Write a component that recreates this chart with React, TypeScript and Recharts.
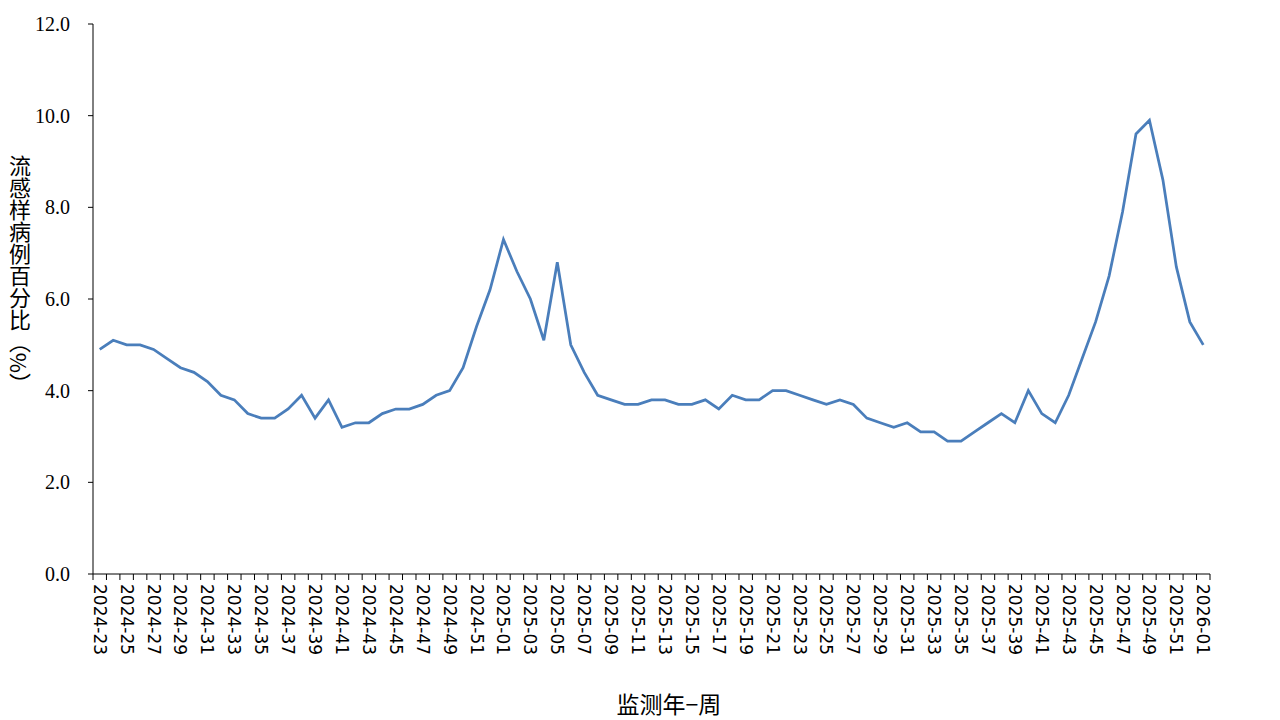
import React from "react";
import { LineChart, Line, XAxis, YAxis } from "recharts";

// ---- data ----
const weeks: string[] = [
  "2024-23", "2024-24", "2024-25", "2024-26", "2024-27", "2024-28", "2024-29", "2024-30",
  "2024-31", "2024-32", "2024-33", "2024-34", "2024-35", "2024-36", "2024-37", "2024-38",
  "2024-39", "2024-40", "2024-41", "2024-42", "2024-43", "2024-44", "2024-45", "2024-46",
  "2024-47", "2024-48", "2024-49", "2024-50", "2024-51", "2024-52",
  "2025-01", "2025-02", "2025-03", "2025-04", "2025-05", "2025-06", "2025-07", "2025-08",
  "2025-09", "2025-10", "2025-11", "2025-12", "2025-13", "2025-14", "2025-15", "2025-16",
  "2025-17", "2025-18", "2025-19", "2025-20", "2025-21", "2025-22", "2025-23", "2025-24",
  "2025-25", "2025-26", "2025-27", "2025-28", "2025-29", "2025-30", "2025-31", "2025-32",
  "2025-33", "2025-34", "2025-35", "2025-36", "2025-37", "2025-38", "2025-39", "2025-40",
  "2025-41", "2025-42", "2025-43", "2025-44", "2025-45", "2025-46", "2025-47", "2025-48",
  "2025-49", "2025-50", "2025-51", "2025-52",
  "2026-01",
];

// 流感样病例百分比 (%)
const iliPercent: number[] = [
  4.9, 5.1, 5.0, 5.0, 4.9, 4.7, 4.5, 4.4,
  4.2, 3.9, 3.8, 3.5, 3.4, 3.4, 3.6, 3.9,
  3.4, 3.8, 3.2, 3.3, 3.3, 3.5, 3.6, 3.6,
  3.7, 3.9, 4.0, 4.5, 5.4, 6.2,
  7.3, 6.6, 6.0, 5.1, 6.8, 5.0, 4.4, 3.9,
  3.8, 3.7, 3.7, 3.8, 3.8, 3.7, 3.7, 3.8,
  3.6, 3.9, 3.8, 3.8, 4.0, 4.0, 3.9, 3.8,
  3.7, 3.8, 3.7, 3.4, 3.3, 3.2, 3.3, 3.1,
  3.1, 2.9, 2.9, 3.1, 3.3, 3.5, 3.3, 4.0,
  3.5, 3.3, 3.9, 4.7, 5.5, 6.5, 7.9, 9.6,
  9.9, 8.6, 6.7, 5.5,
  5.0,
];

const yTicks: number[] = [0, 2, 4, 6, 8, 10, 12];

const data = weeks.map((w, i) => ({ week: w, value: iliPercent[i] }));

// ---- layout ----
const W = 1280;
const H = 720;
const PLOT_LEFT = 93;
const PLOT_RIGHT = 1210;
const PLOT_TOP = 24;
const PLOT_BOTTOM = 574;
const Y_AXIS_W = 60;
const BAND = (PLOT_RIGHT - PLOT_LEFT) / weeks.length;

const XTick = (props: any) => {
  const { x, index, payload } = props;
  const half = BAND / 2;
  const isLast = index === weeks.length - 1;
  return (
    <g>
      <line x1={x - half} x2={x - half} y1={PLOT_BOTTOM} y2={PLOT_BOTTOM + 6} stroke="#000" />
      {isLast && (
        <line x1={x + half} x2={x + half} y1={PLOT_BOTTOM} y2={PLOT_BOTTOM + 6} stroke="#000" />
      )}
      {index % 2 === 0 && (
        <text
          transform={`translate(${x},${PLOT_BOTTOM + 10}) rotate(90)`}
          textAnchor="start"
          dominantBaseline="central"
          fontFamily="DejaVu Sans"
          fontSize={17}
          fill="#000"
        >
          {payload.value}
        </text>
      )}
    </g>
  );
};

export default function App() {
  return (
    <div style={{ position: "absolute", left: 0, top: 0, width: W, height: H, background: "#fff" }}>
      <LineChart
        width={W}
        height={H}
        data={data}
        margin={{ top: PLOT_TOP, right: W - PLOT_RIGHT, left: PLOT_LEFT - Y_AXIS_W, bottom: 0 }}
      >
        <XAxis
          dataKey="week"
          interval={0}
          height={H - PLOT_BOTTOM}
          padding={{ left: BAND / 2, right: BAND / 2 }}
          axisLine={{ stroke: "#000", strokeWidth: 1 }}
          tickLine={false}
          tick={<XTick />}
        />
        <YAxis
          width={Y_AXIS_W}
          domain={[0, 12]}
          ticks={yTicks}
          interval={0}
          axisLine={{ stroke: "#000", strokeWidth: 1 }}
          tickLine={{ stroke: "#000" }}
          tickSize={5}
          tickMargin={18}
          tickFormatter={(v: number) => v.toFixed(1)}
          tick={{ fontFamily: "Liberation Serif", fontSize: 20, fill: "#000" }}
        />
        <Line
          type="linear"
          dataKey="value"
          stroke="#4a7ebb"
          strokeWidth={2.75}
          dot={false}
          activeDot={false}
          isAnimationActive={false}
        />
        <text
          x={20}
          y={275}
          textAnchor="middle"
          fontFamily="Noto Sans CJK SC"
          fontSize={22}
          fill="#000"
          style={{ writingMode: "vertical-rl" }}
        >
          流感样病例百分比（%）
        </text>
        <text
          x={669}
          y={703}
          textAnchor="middle"
          dominantBaseline="central"
          fontFamily="Noto Sans CJK SC"
          fontSize={23}
          fill="#000"
        >
          监测年−周
        </text>
      </LineChart>
    </div>
  );
}
